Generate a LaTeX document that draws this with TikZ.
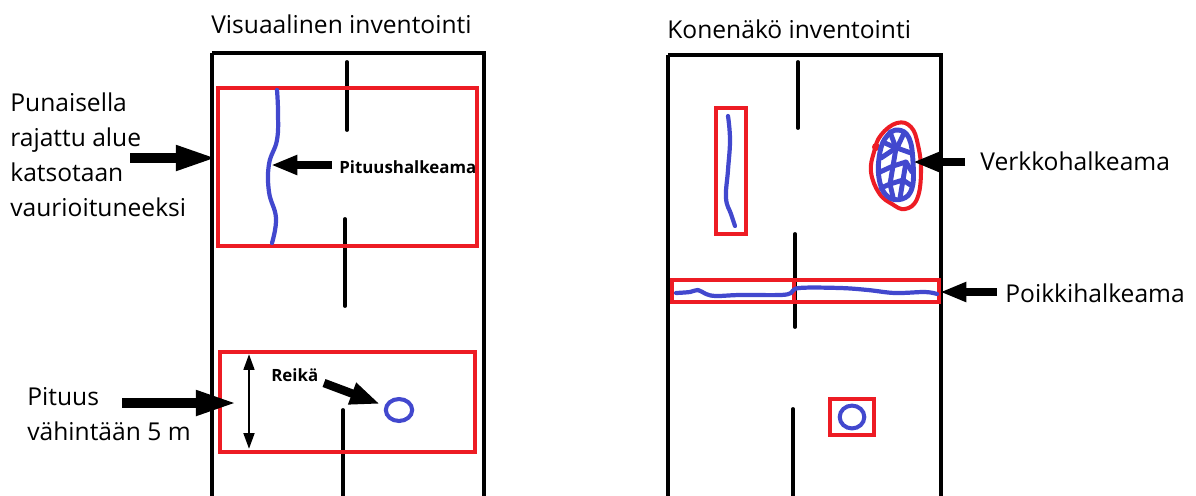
\documentclass[tikz,border=0pt]{standalone}
\usepackage{fontspec}
\setmainfont{Open Sans}
\usetikzlibrary{arrows.meta,shapes.geometric}
\definecolor{boxred}{RGB}{237,28,36}
\definecolor{crackblue}{RGB}{66,72,206}
\tikzset{
  road/.style={line width=2pt, black},
  centreline/.style={line width=2.2pt, black, line cap=round},
  redbox/.style={line width=1.8pt, boxred},
  crack/.style={line width=2.4pt, crackblue, line cap=round, line join=round},
  holeshape/.style={draw=crackblue, line width=2.3pt, ellipse, inner sep=0pt},
  label/.style={inner sep=0pt, font=\fontsize{14}{20}\selectfont},
  boldlabel/.style={inner sep=0pt, font=\bfseries\fontsize{9.6}{12}\selectfont},
  bigarrow/.style={line width=5.8pt, -{Triangle[length=24pt,width=13pt]}},
  midarrow/.style={line width=5pt, -{Triangle[length=15pt,width=10.5pt]}},
  spanarrow/.style={line width=1.6pt, {Triangle[length=9pt,width=6pt]}-{Triangle[length=9pt,width=6pt]}},
}
\begin{document}
\begin{tikzpicture}[x=0.02cm,y=-0.02cm]
\useasboundingbox (0,0) rectangle (1196,495);

% ---------- left road: visual inventory ----------
\node[label, anchor=base west] (vtitle) at (211,33) {Visuaalinen inventointi};
\draw[road] (212,53) -- (484,53) -- (484,497) (212,497) -- (212,53);
\draw[centreline] (347,62) -- (347,130);
\draw[centreline] (345,219) -- (345,306);
\draw[centreline] (343,410) -- (343,500);

\draw[redbox] (218,88) rectangle (477,246);
\draw[redbox] (220,352) rectangle (475,452);

% longitudinal crack
\draw[crack] plot[smooth, tension=0.7] coordinates {(277,90) (278,112) (277,140) (269,164) (269,192) (276,218) (272,243)};
\coordinate (lcrack) at (271,165);
\node[boldlabel, anchor=base west] (pituush) at (339,173) {Pituushalkeama};
\coordinate (pituustail) at (332,165);
\draw[midarrow] (pituustail) -- (lcrack);

% pothole
\node[holeshape, minimum width=15pt, minimum height=12.5pt] (hole1) at (399,410) {};
\node[boldlabel, anchor=base west] (reika) at (271,381) {Reikä};
\coordinate (reikatail) at (324,383);
\coordinate (reikatip) at (380,404);
\draw[line width=4.8pt, -{Triangle[length=17pt,width=12pt]}] (reikatail) -- (reikatip);

% length span inside the lower box
\coordinate (spantop) at (249,354);
\coordinate (spanbot) at (249,449);
\draw[spanarrow] (spantop) -- (spanbot);

% side notes
\node[label, anchor=north west, align=left] (punainen) at (10,92)
  {Punaisella\\rajattu alue\\katsotaan\\vaurioituneeksi};
\coordinate (punatail) at (130,158);
\coordinate (punatip) at (218,158);
\draw[bigarrow] (punatail) -- (punatip);

\node[label, anchor=north west, align=left] (pituus) at (27,387)
  {Pituus\\vähintään 5 m};
\coordinate (pituustail2) at (122,403);
\coordinate (pituustip2) at (238,403);
\draw[bigarrow] (pituustail2) -- (pituustip2);

% ---------- right road: machine vision inventory ----------
\node[label, anchor=base west] (ktitle) at (667,38) {Konenäkö inventointi};
\draw[road] (668,55) -- (941,55) -- (941,497) (668,497) -- (668,55);
\draw[centreline] (798,62) -- (798,128);
\draw[centreline] (795,234) -- (795,327);
\draw[centreline] (793,409) -- (793,500);

% longitudinal crack in its box
\draw[redbox] (716,108) rectangle (746,234);
\draw[crack] plot[smooth, tension=0.7] coordinates {(728,116) (730,140) (728,170) (726,198) (731,214) (735,226)};

% transverse crack in two boxes
\draw[redbox] (672,280) rectangle (794,302);
\draw[redbox] (794,280) rectangle (939,302);
\draw[crack] plot[smooth, tension=0.6] coordinates {(676,293) (690,292) (698,290) (706,294) (716,296) (740,295) (780,295) (791,293) (799,288) (840,288) (868,290) (895,293) (925,292) (937,294)};
\coordinate (tcrack) at (940,292);
\node[label, anchor=base west] (poikki) at (1005,302) {Poikkihalkeama};
\coordinate (poikkitail) at (997,292);
\draw[midarrow] (poikkitail) -- (tcrack);

% pothole in its box
\draw[redbox] (830,399) rectangle (874,435);
\node[holeshape, minimum width=14pt, minimum height=13pt] (hole2) at (852,417) {};

% alligator cracking
\draw[redbox, line width=2.3pt, line join=round] plot[smooth cycle, tension=0.7] coordinates
  {(897,123) (911,127) (918,145) (921,172) (917,199) (905,209) (892,204) (879,193) (871,172) (874,152) (881,135)};
\fill[boxred] (876,147) circle (4);
\begin{scope}[crack, line width=2.8pt]
\draw plot[smooth cycle, tension=0.7] coordinates
  {(898,130) (909,138) (913,162) (912,188) (902,199) (887,196) (879,178) (880,152) (887,136)};
\draw (890,132) -- (896,148) -- (881,158);
\draw (904,133) -- (897,148) -- (911,153);
\draw (896,148) -- (893,166) -- (880,172);
\draw (893,166) -- (906,162) -- (912,172);
\draw (893,166) -- (890,184) -- (881,188);
\draw (906,162) -- (903,180) -- (912,186);
\draw (890,184) -- (903,180) -- (900,198);
\draw (890,184) -- (893,197);
\draw (885,143) -- (896,148);
\end{scope}
\coordinate (acrack) at (913,162);
\node[label, anchor=base west] (verkko) at (980,170) {Verkkohalkeama};
\coordinate (verkkotail) at (965,162);
\draw[midarrow] (verkkotail) -- (acrack);
\end{tikzpicture}
\end{document}
